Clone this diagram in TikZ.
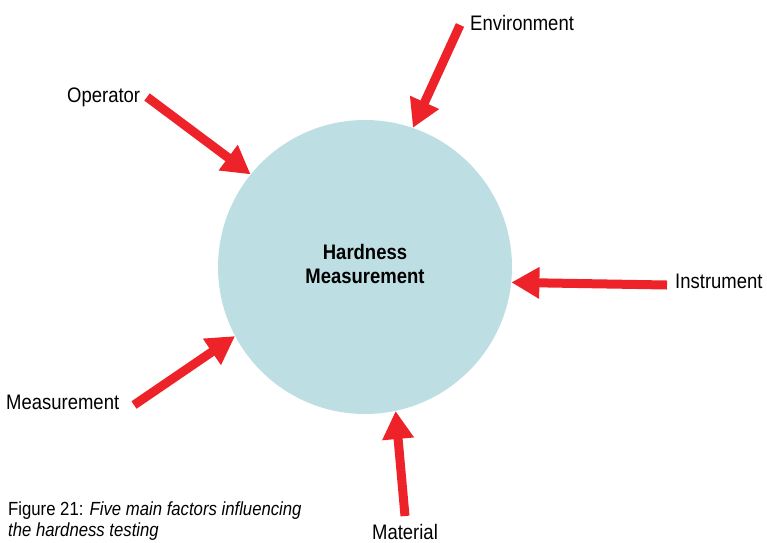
\documentclass[tikz,border=0pt]{standalone}
\usepackage{fontspec}
\setmainfont{Liberation Sans}[FakeStretch=0.88]
\usetikzlibrary{arrows.meta}
\definecolor{factorred}{HTML}{EE2229}
\definecolor{discblue}{HTML}{BDDFE3}
\tikzset{
	factor/.style={line width=9pt, color=factorred, -{Triangle[length=28pt,width=30pt]}},
	label/.style={inner sep=0pt, anchor=base west, font=\fontsize{21}{25}\selectfont},
	caption/.style={inner sep=0pt, anchor=base west, font=\fontsize{19}{23}\selectfont}
}

\begin{document}
\begin{tikzpicture}[x=1pt, y=-1pt]
			%%%%% START %%%%%
			
			\useasboundingbox (0, 0) rectangle (767, 542);
			
			\node[circle, fill=discblue, minimum size=294pt, inner sep=0pt] (hm) at (365, 267) {};
			\node[inner sep=0pt, anchor=base, font=\fontsize{21}{25}\selectfont\bfseries] (hmtop) at (365, 259) {Hardness};
			\node[inner sep=0pt, anchor=base, font=\fontsize{21}{25}\selectfont\bfseries] (hmbot) at (365, 283) {Measurement};
			
			\node[label] (operator) at (67, 102) {Operator};
			\node[label] (environment) at (470, 30) {Environment};
			\node[label] (instrument) at (675, 288) {Instrument};
			\node[label] (measurement) at (6, 409) {Measurement};
			\node[label, anchor=base] (material) at (405, 539) {Material};
			
			\coordinate (optail) at (147, 97);
			\coordinate (envtail) at (460, 25);
			\coordinate (insttail) at (667, 285);
			\coordinate (meastail) at (134, 405);
			\coordinate (mattail) at (405, 516);
			
			\draw[factor] (optail) -- (hm.141);
			\draw[factor] (envtail) -- (hm.71);
			\draw[factor] (insttail) -- (hm.-6);
			\draw[factor] (meastail) -- (hm.208);
			\draw[factor] (mattail) -- (hm.282.5);
			
			\node[caption] (capa) at (8, 515) {Figure 21: \textit{Five main factors influencing}};
			\node[caption] (capb) at (8, 536) {\textit{the hardness testing}};
			
			%%%%% END %%%%%
\end{tikzpicture}
\end{document}
